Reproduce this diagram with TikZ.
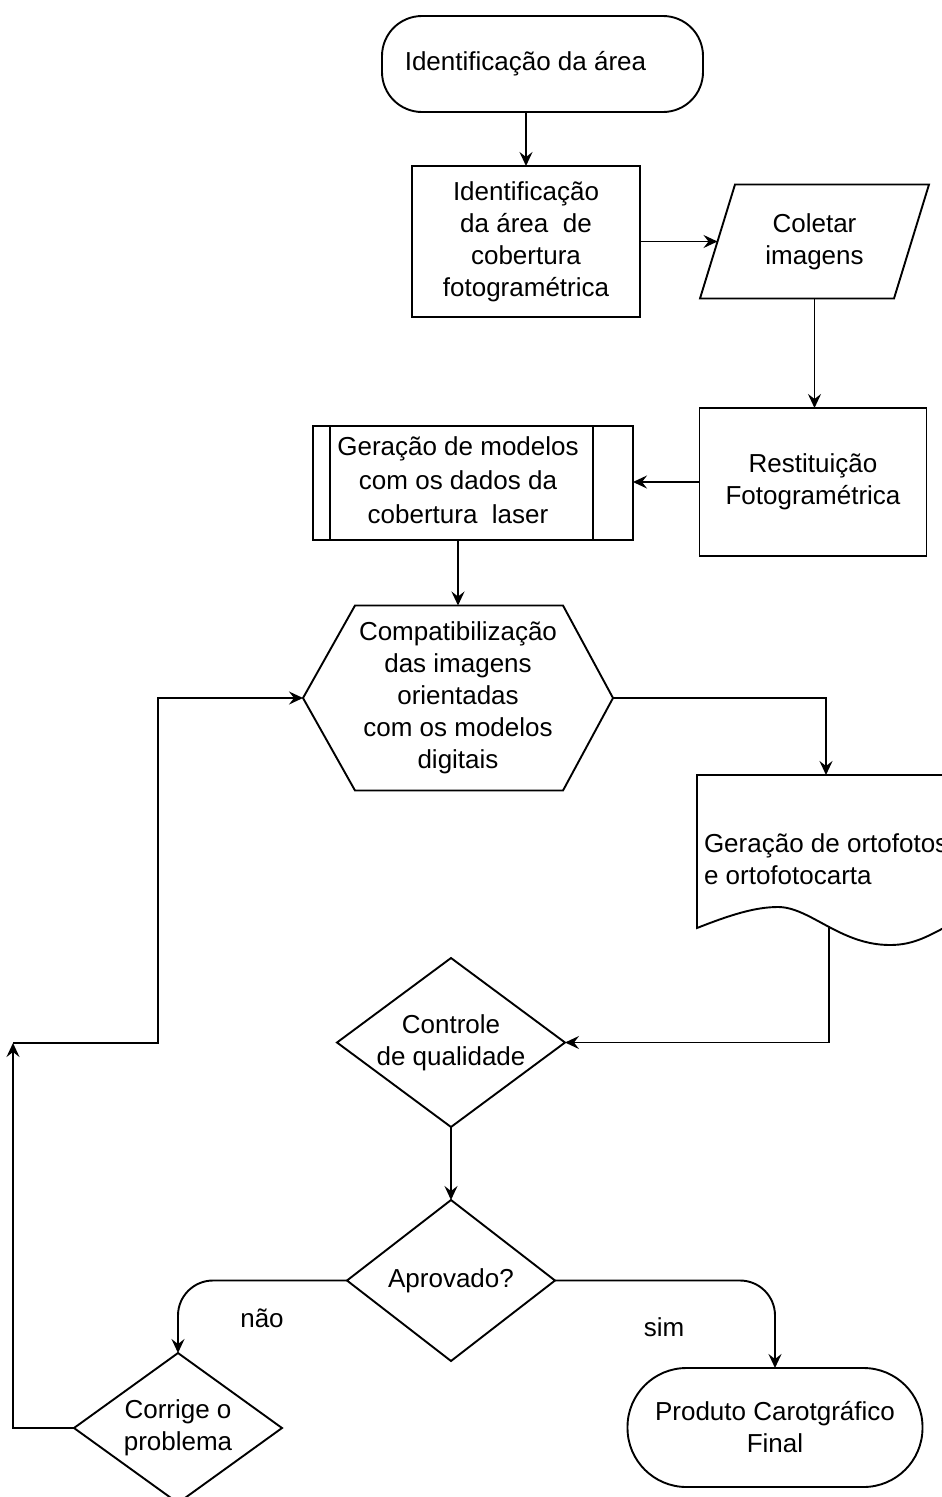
\documentclass[tikz,border=0pt]{standalone}
\usepackage{fontspec}
\setmainfont{Liberation Sans}
\usetikzlibrary{shapes.geometric,arrows.meta,calc}
\begin{document}
\begin{tikzpicture}[x=1pt,y=-1pt,line width=1.9pt,
  >={Stealth[length=14pt,width=13pt,inset=5pt]},
  every node/.style={font=\fontsize{26}{32}\selectfont,align=center,outer sep=0pt,inner sep=0pt},
  proc/.style={draw,rectangle},
  termbox/.style={draw,rectangle},
  decis/.style={draw,diamond},
  plain/.style={}]
\useasboundingbox (0,0) rectangle (942,1497);

% nodes
\node[termbox,minimum width=321pt,minimum height=96pt,rounded corners=40pt] (t1) at (542.5,64) {Identificação da área\hspace*{34pt}};
\node[proc,minimum width=228pt,minimum height=151pt] (b1) at (526,241.5) {Identificação\\da área\ \ de\\cobertura\\fotogramétrica};
\node[plain,minimum width=229pt,minimum height=114pt] (para) at (814.5,241.5) {Coletar\\imagens};
\draw ($(para.north west)+(35,0)$) -- (para.north east) -- ($(para.south east)+(-35,0)$) -- (para.south west) -- cycle;
\coordinate (parain) at ($(para.west)+(17.5,0)$);
\node[proc,minimum width=227pt,minimum height=148pt] (b2) at (813,482) {Restituição\\Fotogramétrica};
\node[proc,minimum width=320pt,minimum height=114pt,font=\fontsize{26}{34}\selectfont] (pp) at (473,483)
  {\begin{tabular}{@{}c@{}}Geração de modelos\\com os dados da\\ cobertura\ \ laser\end{tabular}\hspace*{30pt}};
\draw ($(pp.north west)+(17,0)$) -- ($(pp.south west)+(17,0)$);
\draw ($(pp.north east)+(-40,0)$) -- ($(pp.south east)+(-40,0)$);
\node[plain,minimum width=310pt,minimum height=185pt] (hex) at (458,698) {Compatibilização\\das imagens\\orientadas\\com os modelos\\digitais};
\draw (hex.west) -- ($(hex.north west)+(52,0)$) -- ($(hex.north east)+(-50,0)$) -- (hex.east) -- ($(hex.south east)+(-50,0)$) -- ($(hex.south west)+(52,0)$) -- cycle;
\node[plain,anchor=west,align=left] (doc) at (704,859) {Geração de ortofotos\\e ortofotocarta};
\draw (697,775) -- (955,775) -- (955,922) .. controls (930,935) and (915,945) .. (890,945)
  .. controls (840,945) and (810,907) .. (778,907) .. controls (755,907) and (730,915) .. (697,928) -- cycle;
\coordinate (doctop) at (826,775);
\coordinate (docbot) at (829,926);
\node[decis,minimum width=228pt,minimum height=169pt,aspect=1.35] (cq) at (451,1042.5) {Controle\\de qualidade};
\node[decis,minimum width=208pt,minimum height=161pt,aspect=1.29] (ap) at (451,1280.5) {Aprovado?};
\node[decis,minimum width=208pt,minimum height=150pt,aspect=1.39] (cor) at (178,1428) {Corrige o\\problema};
\node[termbox,minimum width=295pt,minimum height=119pt,rounded corners=59pt] (pt) at (775,1427.5) {Produto Carotgráfico\\Final};
\node[plain] (no) at (262,1318) {não};
\node[plain] (yes) at (664,1327) {sim};
\coordinate (lc) at (13,1043);
\coordinate (lk) at (158,1043);

% connectors
\draw[->] (t1.south -| b1.north) -- (b1.north);
\draw[->] (b1.east) -- (parain);
\draw[->] (para.south) -- (para.south |- b2.north);
\draw[->] (b2.west) -- (b2.west -| pp.east);
\draw[->] (pp.south -| hex.north) -- (hex.north);
\draw[->] (hex.east) -| (doctop);
\draw[->] (docbot) |- (cq.east);
\draw[->] (cq.south) -- (ap.north);
\draw[->,rounded corners=35pt] (ap.west) -| (cor.north);
\draw[->,rounded corners=35pt] (ap.east) -| (pt.north);
\draw[->] (cor.west) -| (lc);
\draw[->] (lc) -- (lk) |- (hex.west);
\end{tikzpicture}
\end{document}
